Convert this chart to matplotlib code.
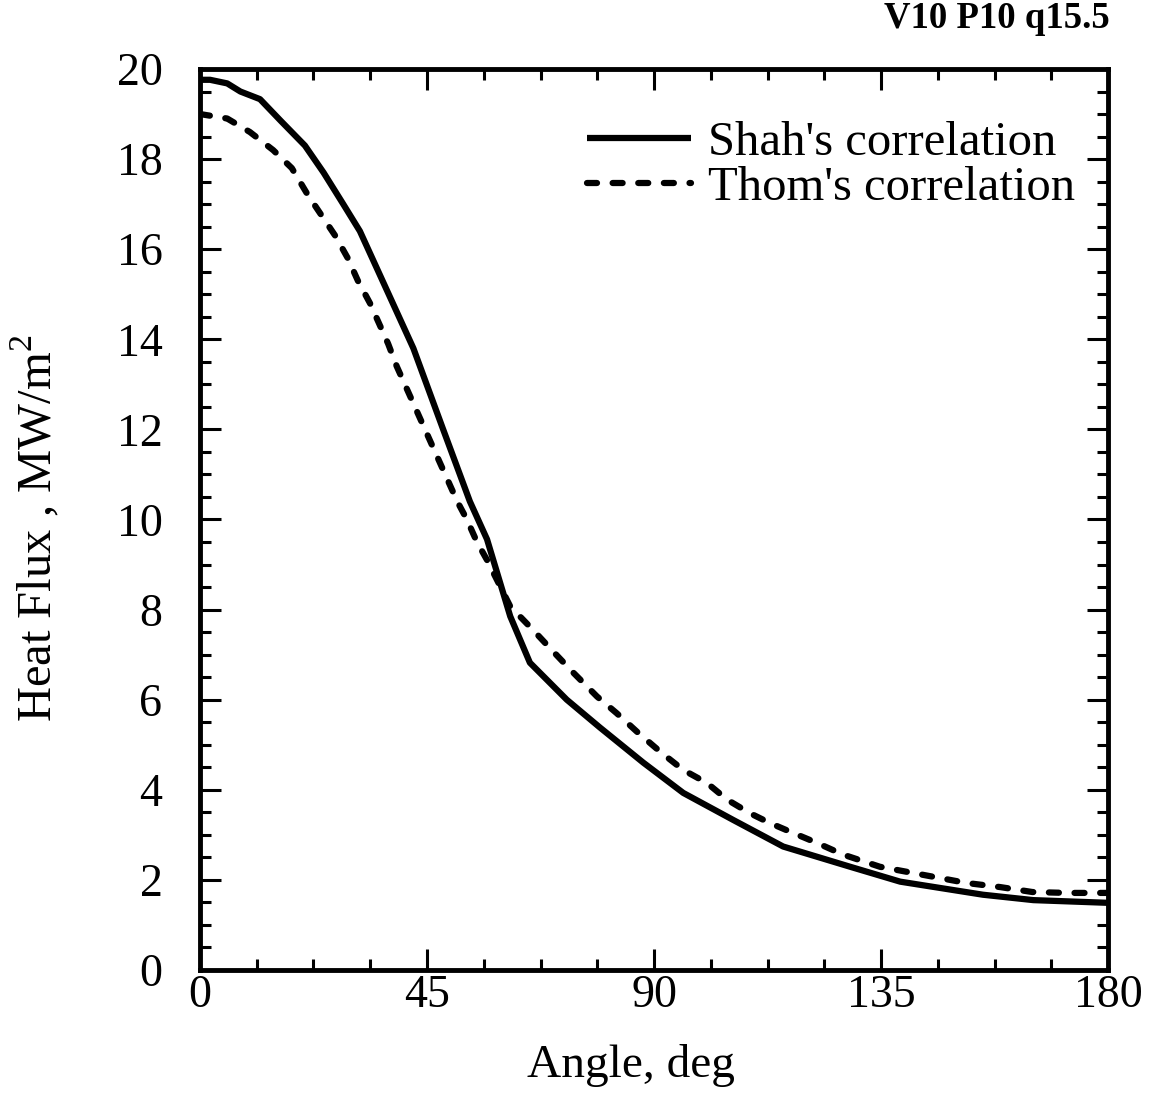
import matplotlib
matplotlib.use("Agg")
import matplotlib.pyplot as plt
from matplotlib.ticker import MultipleLocator

plt.rcParams['font.family'] = ['Liberation Serif', 'DejaVu Serif']
plt.rcParams['mathtext.fontset'] = 'custom'
plt.rcParams['mathtext.rm'] = 'Liberation Serif'

shah_angle = [0, 2, 5.4, 8, 11.9, 16, 20.8, 24.5, 28.4, 31.7, 37, 42.3, 48.2, 53.5,
              56.9, 61.5, 65.4, 72.7, 79.3, 87.9, 95.8, 105.7, 115.6, 128.9, 138.8,
              155.2, 165.2, 180]
shah_flux = [19.76, 19.76, 19.68, 19.5, 19.33, 18.85, 18.3, 17.7, 17.0, 16.4, 15.1, 13.8,
             12.0, 10.4, 9.56, 7.85, 6.82, 6.0, 5.38, 4.6, 3.93, 3.33, 2.74, 2.29, 1.96,
             1.67, 1.55, 1.49]

thom_angle = [0, 5.4, 9.9, 14.5, 18.2, 21.4, 24.4, 26.8, 29.3, 31.3, 33.7, 35.7, 37.3,
              39, 41, 43, 45, 47, 49, 51, 52.9, 54.9, 56.9, 61.5, 66, 70, 74, 78.7,
              82.6, 86.9, 91.6, 95.8, 100.5, 104.5, 109, 113, 117.6, 122.3, 127.5,
              134.8, 145.3, 152, 158.6, 165, 171.9, 180]
thom_flux = [19.0, 18.9, 18.6, 18.2, 17.8, 17.2, 16.7, 16.3, 15.8, 15.3, 14.8, 14.3, 13.9,
             13.4, 12.9, 12.4, 11.9, 11.4, 10.9, 10.4, 10.0, 9.5, 9.1, 8.07, 7.55, 7.07,
             6.6, 6.07, 5.7, 5.26, 4.81, 4.44, 4.15, 3.78, 3.48, 3.26, 3.04, 2.82, 2.56,
             2.29, 2.07, 1.93, 1.84, 1.73, 1.71, 1.71]

x_ticks = [0, 45, 90, 135, 180]
y_ticks = [0, 2, 4, 6, 8, 10, 12, 14, 16, 18, 20]

fig = plt.figure(figsize=(11.5, 10.95), dpi=100)
ax = fig.add_axes([0.1739, 0.1142, 0.7896, 0.8228])

ax.plot(shah_angle, shah_flux, color='black', lw=4.5, solid_joinstyle='round',
        solid_capstyle='butt', label="Shah's correlation")
ax.plot(thom_angle, thom_flux, color='black', lw=4.5, linestyle=(0, (1.6, 2.5)),
        dash_capstyle='round', label="Thom's correlation")

ax.set_xlim(0, 180)
ax.set_ylim(0, 20)
ax.set_xticks(x_ticks)
ax.set_yticks(y_ticks)
ax.xaxis.set_minor_locator(MultipleLocator(11.25))
ax.yaxis.set_minor_locator(MultipleLocator(0.5))
ax.tick_params(which='both', direction='in', top=True, right=True, width=2.2,
               labelsize=33, color='black')
ax.tick_params(which='major', length=15)
ax.tick_params(which='minor', length=8)
ax.tick_params(axis='x', which='major', pad=3)
ax.tick_params(axis='y', which='major', pad=27)
for s in ax.spines.values():
    s.set_linewidth(3.5)

ax.set_xlabel('Angle, deg', fontsize=34)
ax.xaxis.set_label_coords(0.475, -0.082)
ax.set_ylabel('Heat Flux , MW/m$^2$', fontsize=35)
ax.yaxis.set_label_coords(-0.152, 0.49)

leg = ax.legend(loc='upper right', frameon=False, fontsize=35, handlelength=2.15,
                handletextpad=0.35, labelspacing=0.02, borderpad=0.0,
                borderaxespad=0.0, bbox_to_anchor=(0.964, 0.942))

fig.text(0.965, 0.9744, 'V10 P10 q15.5', fontsize=26.5, fontweight='bold', ha='right',
         va='baseline')

fig.savefig('out.png', dpi=100)
